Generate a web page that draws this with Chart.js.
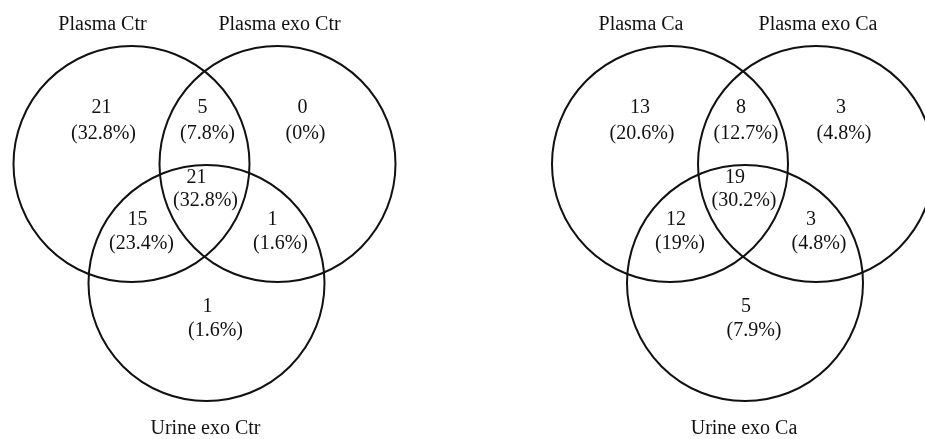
<!DOCTYPE html>
<html lang="en">
<head>
<meta charset="UTF-8">
<title>Venn diagrams</title>
<style>
    html, body { margin: 0; padding: 0; background: #fff; }
    .wrap { position: relative; width: 925px; height: 439px; }
</style>
<script src="https://cdn.jsdelivr.net/npm/chart.js"></script>
</head>
<body>
<div class="wrap"><canvas id="venn"></canvas></div>
<script>
// set names, one list per diagram
const setsCtr = ['Plasma Ctr', 'Plasma exo Ctr', 'Urine exo Ctr'];
const setsCa = ['Plasma Ca', 'Plasma exo Ca', 'Urine exo Ca'];
// regions: A only, A&B, B only, A&B&C, A&C, B&C, C only
const regions = ['A', 'AB', 'B', 'ABC', 'AC', 'BC', 'C'];
const countsCtr = [21, 5, 0, 21, 15, 1, 1];
const percentCtr = [32.8, 7.8, 0, 32.8, 23.4, 1.6, 1.6];
const countsCa = [13, 8, 3, 19, 12, 3, 5];
const percentCa = [20.6, 12.7, 4.8, 30.2, 19, 4.8, 7.9];

// layout (pixels on the 925x439 canvas)
const R = 118;
const panels = [
    { cx: 204.5, cy: 165, sets: setsCtr, counts: countsCtr, pct: percentCtr },
    { cx: 743, cy: 165, sets: setsCa, counts: countsCa, pct: percentCa }
];
const circleOffsets = [[-73, -1], [73, -1], [2, 118]];
const countPos = [[-103, -57], [-2, -57], [98, -57], [-8, 13], [-67, 55], [68, 55], [3, 142]];
const pctPos = [[-101, -31], [3, -31], [101, -31], [1, 36], [-63, 79], [76, 79], [11, 166]];
const namePos = [[-102, -140], [75, -140], [1, 264]];

const FONT = '20px "Liberation Serif", "Times New Roman", serif';
const INK = '#111';

const datasets = panels.map(p => ({
    data: circleOffsets.map(o => ({ x: p.cx + o[0], y: p.cy + o[1], r: R })),
    backgroundColor: 'rgba(0,0,0,0)',
    borderColor: INK,
    borderWidth: 2,
    hoverBorderWidth: 2,
    clip: false
}));

const vennLabels = {
    id: 'vennLabels',
    afterDatasetsDraw(chart) {
        const c = chart.ctx;
        const sx = chart.scales.x, sy = chart.scales.y;
        c.save();
        c.font = FONT;
        c.fillStyle = INK;
        c.textAlign = 'center';
        c.textBaseline = 'middle';
        panels.forEach(p => {
            const put = (txt, o) => c.fillText(txt, sx.getPixelForValue(p.cx + o[0]), sy.getPixelForValue(p.cy + o[1]));
            p.sets.forEach((name, i) => put(name, namePos[i]));
            regions.forEach((r, i) => {
                put(String(p.counts[i]), countPos[i]);
                put('(' + p.pct[i] + '%)', pctPos[i]);
            });
        });
        c.restore();
    }
};

new Chart(document.getElementById('venn'), {
    type: 'bubble',
    data: { datasets: datasets },
    options: {
        responsive: true,
        maintainAspectRatio: false,
        animation: false,
        events: [],
        layout: { padding: 0, autoPadding: false },
        plugins: { legend: { display: false }, tooltip: { enabled: false } },
        scales: {
            x: { type: 'linear', min: 0, max: 925, display: false },
            y: { type: 'linear', min: 0, max: 439, reverse: true, display: false }
        }
    },
    plugins: [vennLabels]
});
</script>
</body>
</html>
